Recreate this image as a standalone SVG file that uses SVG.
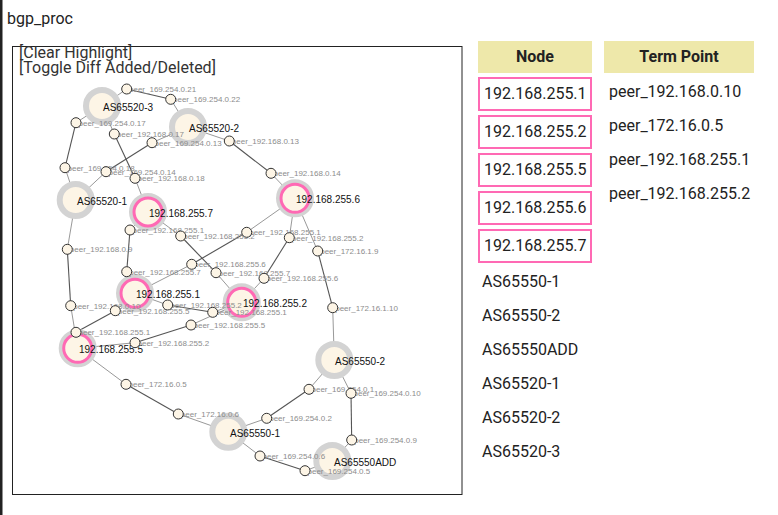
<svg xmlns="http://www.w3.org/2000/svg" width="778" height="515" viewBox="0 0 778 515">
<style>
.ui{font-family:Roboto,"Liberation Sans",sans-serif;fill:#222}
.hdr{fill:#eee8aa}
.sel{fill:#fff;stroke:#ff69b4;stroke-width:2}
.row{font-family:Roboto,"Liberation Sans",sans-serif;font-size:16px;fill:#222}
.e{stroke:#999;stroke-width:1;fill:none}
.l{stroke:#555;stroke-width:1.1;fill:none}
.ring{fill:#fdf5e6;stroke:#d3d3d3;stroke-width:6}
.pk{fill:none;stroke:#ff69b4;stroke-width:3}
.nl{font-family:"Liberation Sans",Arial,sans-serif;font-size:10px;fill:#111}
.tp{fill:#fdf5e6;stroke:#333;stroke-width:1}
.tl{font-family:"Liberation Sans",Arial,sans-serif;font-size:8px;fill:#8c8c8c}
</style>
<rect x="0" y="0" width="778" height="515" fill="#fff"/>
<rect x="0" y="0" width="2.5" height="515" fill="#222"/>
<text class="ui" x="7" y="24" font-size="16">bgp_proc</text>
<rect x="12.5" y="46.5" width="449.5" height="448" fill="#fff" stroke="#222" stroke-width="1"/>
<text class="ui" x="19" y="57.5" font-size="16" style="fill:#333">[Clear Highlight]</text>
<text class="ui" x="19" y="73" font-size="16" style="fill:#333">[Toggle Diff Added/Deleted]</text>

<g id="connectors">
<line class="e" x1="102" y1="106" x2="126.7" y2="89"/>
<line class="e" x1="102" y1="106" x2="76" y2="122.7"/>
<line class="e" x1="102" y1="106" x2="114.3" y2="134"/>
<line class="e" x1="188" y1="127" x2="170.7" y2="99.3"/>
<line class="e" x1="188" y1="127" x2="152" y2="142.7"/>
<line class="e" x1="188" y1="127" x2="229.3" y2="141"/>
<line class="e" x1="75.7" y1="200" x2="65" y2="167.7"/>
<line class="e" x1="75.7" y1="200" x2="106" y2="171.7"/>
<line class="e" x1="75.7" y1="200" x2="67.3" y2="249.3"/>
<line class="e" x1="148" y1="212" x2="135" y2="178.3"/>
<line class="e" x1="148" y1="212" x2="130" y2="230"/>
<line class="e" x1="148" y1="212" x2="180.7" y2="236"/>
<line class="e" x1="295" y1="198.3" x2="271" y2="173.3"/>
<line class="e" x1="295" y1="198.3" x2="246.7" y2="232.3"/>
<line class="e" x1="295" y1="198.3" x2="289.3" y2="237.7"/>
<line class="e" x1="295" y1="198.3" x2="317.7" y2="251"/>
<line class="e" x1="135" y1="293.3" x2="126.7" y2="271.7"/>
<line class="e" x1="135" y1="293.3" x2="191.7" y2="264.3"/>
<line class="e" x1="135" y1="293.3" x2="115.3" y2="310.7"/>
<line class="e" x1="135" y1="293.3" x2="167.7" y2="305"/>
<line class="e" x1="241.7" y1="302.3" x2="216" y2="272.7"/>
<line class="e" x1="241.7" y1="302.3" x2="264" y2="278.3"/>
<line class="e" x1="241.7" y1="302.3" x2="212.7" y2="312.3"/>
<line class="e" x1="241.7" y1="302.3" x2="191" y2="325"/>
<line class="e" x1="77.7" y1="348.3" x2="70.7" y2="305.7"/>
<line class="e" x1="77.7" y1="348.3" x2="76" y2="332.3"/>
<line class="e" x1="77.7" y1="348.3" x2="135" y2="342.7"/>
<line class="e" x1="77.7" y1="348.3" x2="126" y2="384.3"/>
<line class="e" x1="334.3" y1="360" x2="332.7" y2="307.7"/>
<line class="e" x1="334.3" y1="360" x2="309" y2="389.3"/>
<line class="e" x1="334.3" y1="360" x2="351" y2="393.3"/>
<line class="e" x1="228.3" y1="431.7" x2="178.3" y2="414"/>
<line class="e" x1="228.3" y1="431.7" x2="266.7" y2="418.3"/>
<line class="e" x1="228.3" y1="431.7" x2="260" y2="456"/>
<line class="e" x1="332.3" y1="461" x2="351.7" y2="440"/>
<line class="e" x1="332.3" y1="461" x2="305" y2="470.7"/>
<line class="l" x1="126.7" y1="89" x2="170.7" y2="99.3"/>
<line class="l" x1="76" y1="122.7" x2="65" y2="167.7"/>
<line class="l" x1="114.3" y1="134" x2="135" y2="178.3"/>
<line class="l" x1="152" y1="142.7" x2="106" y2="171.7"/>
<line class="l" x1="229.3" y1="141" x2="271" y2="173.3"/>
<line class="l" x1="67.3" y1="249.3" x2="70.7" y2="305.7"/>
<line class="l" x1="130" y1="230" x2="126.7" y2="271.7"/>
<line class="l" x1="180.7" y1="236" x2="216" y2="272.7"/>
<line class="l" x1="246.7" y1="232.3" x2="191.7" y2="264.3"/>
<line class="l" x1="289.3" y1="237.7" x2="264" y2="278.3"/>
<line class="l" x1="317.7" y1="251" x2="332.7" y2="307.7"/>
<line class="l" x1="115.3" y1="310.7" x2="76" y2="332.3"/>
<line class="l" x1="167.7" y1="305" x2="212.7" y2="312.3"/>
<line class="l" x1="191" y1="325" x2="135" y2="342.7"/>
<line class="l" x1="126" y1="384.3" x2="178.3" y2="414"/>
<line class="l" x1="309" y1="389.3" x2="266.7" y2="418.3"/>
<line class="l" x1="351" y1="393.3" x2="351.7" y2="440"/>
<line class="l" x1="260" y1="456" x2="305" y2="470.7"/>
</g>

<g id="node-AS65520-3"><circle class="ring" cx="102" cy="106" r="16"/><text class="nl" x="103" y="111">AS65520-3</text></g>
<g id="node-AS65520-2"><circle class="ring" cx="188" cy="127" r="16"/><text class="nl" x="189" y="132">AS65520-2</text></g>
<g id="node-AS65520-1"><circle class="ring" cx="75.7" cy="200" r="16"/><text class="nl" x="77" y="205">AS65520-1</text></g>
<g id="node-192.168.255.7"><circle class="ring" cx="148" cy="212" r="16"/><circle class="pk" cx="148" cy="212" r="14"/><text class="nl" x="149" y="217">192.168.255.7</text></g>
<g id="node-192.168.255.6"><circle class="ring" cx="295" cy="198.3" r="16"/><circle class="pk" cx="295" cy="198.3" r="14"/><text class="nl" x="296" y="203">192.168.255.6</text></g>
<g id="node-192.168.255.1"><circle class="ring" cx="135" cy="293.3" r="16"/><circle class="pk" cx="135" cy="293.3" r="14"/><text class="nl" x="136" y="298">192.168.255.1</text></g>
<g id="node-192.168.255.2"><circle class="ring" cx="241.7" cy="302.3" r="16"/><circle class="pk" cx="241.7" cy="302.3" r="14"/><text class="nl" x="243" y="307">192.168.255.2</text></g>
<g id="node-192.168.255.5"><circle class="ring" cx="77.7" cy="348.3" r="16"/><circle class="pk" cx="77.7" cy="348.3" r="14"/><text class="nl" x="79" y="353">192.168.255.5</text></g>
<g id="node-AS65550-2"><circle class="ring" cx="334.3" cy="360" r="16"/><text class="nl" x="335" y="365">AS65550-2</text></g>
<g id="node-AS65550-1"><circle class="ring" cx="228.3" cy="431.7" r="16"/><text class="nl" x="230" y="437">AS65550-1</text></g>
<g id="node-AS65550ADD"><circle class="ring" cx="332.3" cy="461" r="16"/><text class="nl" x="334" y="466">AS65550ADD</text></g>

<g id="tp-169.254.0.21"><text class="tl" x="129" y="92">peer_169.254.0.21</text><circle class="tp" cx="126.7" cy="89" r="5"/></g>
<g id="tp-169.254.0.22"><text class="tl" x="173" y="102.3">peer_169.254.0.22</text><circle class="tp" cx="170.7" cy="99.3" r="5"/></g>
<g id="tp-169.254.0.17"><text class="tl" x="78.5" y="125.7">peer_169.254.0.17</text><circle class="tp" cx="76" cy="122.7" r="5"/></g>
<g id="tp-192.168.0.17"><text class="tl" x="116.8" y="137">peer_192.168.0.17</text><circle class="tp" cx="114.3" cy="134" r="5"/></g>
<g id="tp-169.254.0.13"><text class="tl" x="154.5" y="145.7">peer_169.254.0.13</text><circle class="tp" cx="152" cy="142.7" r="5"/></g>
<g id="tp-192.168.0.13"><text class="tl" x="231.8" y="144">peer_192.168.0.13</text><circle class="tp" cx="229.3" cy="141" r="5"/></g>
<g id="tp-169.254.0.18"><text class="tl" x="67.5" y="170.7">peer_169.254.0.18</text><circle class="tp" cx="65" cy="167.7" r="5"/></g>
<g id="tp-169.254.0.14"><text class="tl" x="108.5" y="174.7">peer_169.254.0.14</text><circle class="tp" cx="106" cy="171.7" r="5"/></g>
<g id="tp-192.168.0.18"><text class="tl" x="137.5" y="181.3">peer_192.168.0.18</text><circle class="tp" cx="135" cy="178.3" r="5"/></g>
<g id="tp-192.168.0.14"><text class="tl" x="273.5" y="176.3">peer_192.168.0.14</text><circle class="tp" cx="271" cy="173.3" r="5"/></g>
<g id="tp-192.168.0.9"><text class="tl" x="69.8" y="252.3">peer_192.168.0.9</text><circle class="tp" cx="67.3" cy="249.3" r="5"/></g>
<g id="tp-7-192.168.255.1"><text class="tl" x="132.5" y="233">peer_192.168.255.1</text><circle class="tp" cx="130" cy="230" r="5"/></g>
<g id="tp-7-192.168.255.2"><text class="tl" x="183.2" y="239">peer_192.168.255.2</text><circle class="tp" cx="180.7" cy="236" r="5"/></g>
<g id="tp-6-192.168.255.1"><text class="tl" x="249.2" y="235.3">peer_192.168.255.1</text><circle class="tp" cx="246.7" cy="232.3" r="5"/></g>
<g id="tp-6-192.168.255.2"><text class="tl" x="291.8" y="240.7">peer_192.168.255.2</text><circle class="tp" cx="289.3" cy="237.7" r="5"/></g>
<g id="tp-172.16.1.9"><text class="tl" x="320.2" y="254">peer_172.16.1.9</text><circle class="tp" cx="317.7" cy="251" r="5"/></g>
<g id="tp-1-192.168.255.6"><text class="tl" x="194.2" y="267.3">peer_192.168.255.6</text><circle class="tp" cx="191.7" cy="264.3" r="5"/></g>
<g id="tp-1-192.168.255.7"><text class="tl" x="129.2" y="274.7">peer_192.168.255.7</text><circle class="tp" cx="126.7" cy="271.7" r="5"/></g>
<g id="tp-2-192.168.255.7"><text class="tl" x="218.5" y="275.7">peer_192.168.255.7</text><circle class="tp" cx="216" cy="272.7" r="5"/></g>
<g id="tp-2-192.168.255.6"><text class="tl" x="266.5" y="281.3">peer_192.168.255.6</text><circle class="tp" cx="264" cy="278.3" r="5"/></g>
<g id="tp-172.16.1.10"><text class="tl" x="335.2" y="310.7">peer_172.16.1.10</text><circle class="tp" cx="332.7" cy="307.7" r="5"/></g>
<g id="tp-192.168.0.10"><text class="tl" x="73.2" y="308.7">peer_192.168.0.10</text><circle class="tp" cx="70.7" cy="305.7" r="5"/></g>
<g id="tp-1-192.168.255.5"><text class="tl" x="117.8" y="313.7">peer_192.168.255.5</text><circle class="tp" cx="115.3" cy="310.7" r="5"/></g>
<g id="tp-1-192.168.255.2"><text class="tl" x="170.2" y="308">peer_192.168.255.2</text><circle class="tp" cx="167.7" cy="305" r="5"/></g>
<g id="tp-2-192.168.255.1"><text class="tl" x="215.2" y="315.3">peer_192.168.255.1</text><circle class="tp" cx="212.7" cy="312.3" r="5"/></g>
<g id="tp-2-192.168.255.5"><text class="tl" x="193.5" y="328">peer_192.168.255.5</text><circle class="tp" cx="191" cy="325" r="5"/></g>
<g id="tp-5-192.168.255.1"><text class="tl" x="78.5" y="335.3">peer_192.168.255.1</text><circle class="tp" cx="76" cy="332.3" r="5"/></g>
<g id="tp-5-192.168.255.2"><text class="tl" x="137.5" y="345.7">peer_192.168.255.2</text><circle class="tp" cx="135" cy="342.7" r="5"/></g>
<g id="tp-172.16.0.5"><text class="tl" x="128.5" y="387.3">peer_172.16.0.5</text><circle class="tp" cx="126" cy="384.3" r="5"/></g>
<g id="tp-172.16.0.6"><text class="tl" x="180.8" y="417">peer_172.16.0.6</text><circle class="tp" cx="178.3" cy="414" r="5"/></g>
<g id="tp-169.254.0.1"><text class="tl" x="311.5" y="392.3">peer_169.254.0.1</text><circle class="tp" cx="309" cy="389.3" r="5"/></g>
<g id="tp-169.254.0.10"><text class="tl" x="353.5" y="396.3">peer_169.254.0.10</text><circle class="tp" cx="351" cy="393.3" r="5"/></g>
<g id="tp-169.254.0.2"><text class="tl" x="269.2" y="421.3">peer_169.254.0.2</text><circle class="tp" cx="266.7" cy="418.3" r="5"/></g>
<g id="tp-169.254.0.9"><text class="tl" x="354.2" y="443">peer_169.254.0.9</text><circle class="tp" cx="351.7" cy="440" r="5"/></g>
<g id="tp-169.254.0.6"><text class="tl" x="262.5" y="459">peer_169.254.0.6</text><circle class="tp" cx="260" cy="456" r="5"/></g>
<g id="tp-169.254.0.5"><text class="tl" x="307.5" y="473.7">peer_169.254.0.5</text><circle class="tp" cx="305" cy="470.7" r="5"/></g>

<g id="node-table">
<rect class="hdr" x="478" y="41" width="114" height="32"/>
<text class="ui" x="535" y="62" font-size="16" font-weight="bold" text-anchor="middle">Node</text>
<rect class="sel" x="479" y="78" width="112" height="32"/>
<text class="row" x="484" y="99">192.168.255.1</text>
<rect class="sel" x="479" y="116" width="112" height="32"/>
<text class="row" x="484" y="137">192.168.255.2</text>
<rect class="sel" x="479" y="154" width="112" height="32"/>
<text class="row" x="484" y="175">192.168.255.5</text>
<rect class="sel" x="479" y="192" width="112" height="32"/>
<text class="row" x="484" y="213">192.168.255.6</text>
<rect class="sel" x="479" y="230" width="112" height="32"/>
<text class="row" x="484" y="251">192.168.255.7</text>
<text class="row" x="482" y="287">AS65550-1</text>
<text class="row" x="482" y="321">AS65550-2</text>
<text class="row" x="482" y="355">AS65550ADD</text>
<text class="row" x="482" y="389">AS65520-1</text>
<text class="row" x="482" y="423">AS65520-2</text>
<text class="row" x="482" y="457">AS65520-3</text>
</g>
<g id="tp-table">
<rect class="hdr" x="604" y="41" width="150" height="32"/>
<text class="ui" x="679" y="62" font-size="16" font-weight="bold" text-anchor="middle">Term Point</text>
<text class="row" x="609" y="97">peer_192.168.0.10</text>
<text class="row" x="609" y="131">peer_172.16.0.5</text>
<text class="row" x="609" y="165">peer_192.168.255.1</text>
<text class="row" x="609" y="199">peer_192.168.255.2</text>
</g>
</svg>
